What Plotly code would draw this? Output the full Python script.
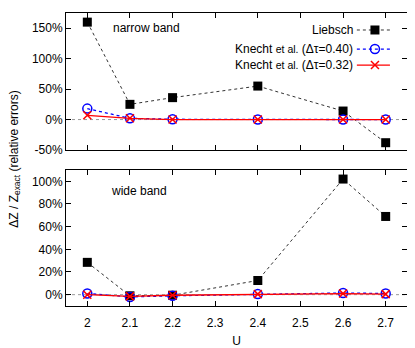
import plotly.graph_objects as go

U = [2.0, 2.1, 2.2, 2.4, 2.6, 2.7]
# narrow band (relative errors, %)
narrow_liebsch = [160, 25, 36, 55, 14, -38]
narrow_k040 = [18, 2, 0.5, 0, 0, 0]
narrow_k032 = [7, 2, 0, 0, 0, 0]
# wide band
wide_liebsch = [28.5, -1, -0.5, 12.5, 102, 69]
wide_k040 = [1, -2, -1, 0.5, 1.5, 1]
wide_k032 = [0, -1.5, -0.5, 0.5, 1, 0.5]

x_ticks = [2.0, 2.1, 2.2, 2.3, 2.4, 2.5, 2.6, 2.7]
x_labels = ["2", "2.1", "2.2", "2.3", "2.4", "2.5", "2.6", "2.7"]
top_yticks = [-50, 0, 50, 100, 150]
bot_yticks = [0, 20, 40, 60, 80, 100]

FONT = "Liberation Sans, Arial, sans-serif"

styles = {
    "lieb": dict(mode="lines+markers", line=dict(color="#333333", width=1, dash="3px,3px"),
                 marker=dict(symbol="square", size=9, color="black")),
    "k040": dict(mode="lines+markers", line=dict(color="blue", width=1.3, dash="3px,3px"),
                 marker=dict(symbol="circle-open", size=9, color="blue", line=dict(width=1.5))),
    "k032": dict(mode="lines+markers", line=dict(color="red", width=1.3),
                 marker=dict(symbol="x-thin-open", size=8, color="red", line=dict(width=1.5, color="red"))),
}

fig = go.Figure()
for ys, k in [(narrow_liebsch, "lieb"), (narrow_k040, "k040"), (narrow_k032, "k032")]:
    fig.add_trace(go.Scatter(x=U, y=ys, xaxis="x", yaxis="y", showlegend=False, **styles[k]))
for ys, k in [(wide_liebsch, "lieb"), (wide_k040, "k040"), (wide_k032, "k032")]:
    fig.add_trace(go.Scatter(x=U, y=ys, xaxis="x2", yaxis="y2", showlegend=False, **styles[k]))

# legend samples on an overlay axis covering the top panel
leg_names = ["Liebsch", "Knecht <span style='font-size:10.5px'>et al.</span> (Δτ=0.40)",
             "Knecht <span style='font-size:10.5px'>et al.</span> (Δτ=0.32)"]
leg_keys = ["lieb", "k040", "k032"]
leg_y = [0.876, 0.737, 0.62]
for name, k, yy in zip(leg_names, leg_keys, leg_y):
    st = styles[k]
    fig.add_trace(go.Scatter(x=[0.853, 0.95], y=[yy, yy], xaxis="x3", yaxis="y3", mode="lines",
                             line=st["line"], showlegend=False, hoverinfo="skip"))
    fig.add_trace(go.Scatter(x=[0.906], y=[yy], xaxis="x3", yaxis="y3", mode="markers",
                             marker=st["marker"], showlegend=False, hoverinfo="skip"))
    fig.add_annotation(x=0.848, y=yy, xref="x3", yref="y3", text=name, showarrow=False,
                       xanchor="right", yanchor="middle", font=dict(size=12, color="black", family=FONT))

axis_common = dict(showline=True, linecolor="black", linewidth=1, mirror="ticks", ticks="inside",
                   ticklen=5, tickcolor="black", showgrid=False, zeroline=False, automargin=False,
                   tickfont=dict(size=12, color="black", family=FONT))

top_dom = [0.5324, 1.0]
bot_dom = [0.0, 0.4642]

# the page body adds an 8px offset, so the figure is 8px smaller with margins shifted
fig.update_layout(
    width=407, height=340,
    margin=dict(l=58, r=8, t=5, b=42),
    paper_bgcolor="white", plot_bgcolor="rgba(0,0,0,0)",
    xaxis=dict(domain=[0, 1], anchor="y", range=[1.95, 2.75], tickvals=x_ticks, showticklabels=False, **axis_common),
    yaxis=dict(domain=top_dom, anchor="x", range=[-50, 175], tickvals=top_yticks,
               ticktext=[f"{v}%" for v in top_yticks], **axis_common),
    xaxis2=dict(domain=[0, 1], anchor="y2", range=[1.95, 2.75], tickvals=x_ticks, ticktext=x_labels,
                ticklabelstandoff=6,
                title=dict(text="U", font=dict(size=12, color="black", family=FONT), standoff=7), **axis_common),
    yaxis2=dict(domain=bot_dom, anchor="x2", range=[-10, 110], tickvals=bot_yticks,
                ticktext=[f"{v}%" for v in bot_yticks], **axis_common),
    xaxis3=dict(range=[0, 1], visible=False, overlaying="x", anchor="y3"),
    yaxis3=dict(range=[0, 1], visible=False, overlaying="y", anchor="x3"),
    font=dict(family=FONT, color="black"),
)

# zero reference lines
fig.add_shape(type="line", xref="x domain", yref="y", x0=0, x1=1, y0=0, y1=0,
              line=dict(color="#999999", width=1, dash="dot"), layer="below")
fig.add_shape(type="line", xref="x2 domain", yref="y2", x0=0, x1=1, y0=0, y1=0,
              line=dict(color="#999999", width=1, dash="dot"), layer="below")

fig.add_annotation(x=0.235, y=0.89, xref="x domain", yref="y domain", text="narrow band",
                   showarrow=False, yanchor="middle", xanchor="center",
                   font=dict(size=12, family=FONT, color="black"))
fig.add_annotation(x=0.215, y=0.846, xref="x2 domain", yref="y2 domain", text="wide band",
                   showarrow=False, yanchor="middle", xanchor="center",
                   font=dict(size=12, family=FONT, color="black"))
fig.add_annotation(x=-0.152, y=0.5, xref="paper", yref="paper", textangle=-90,
                   text="ΔZ / Z<sub>exact</sub> (relative errors)", showarrow=False,
                   font=dict(size=12, family=FONT, color="black"), xanchor="center", yanchor="middle")

fig.write_html("out.html")
